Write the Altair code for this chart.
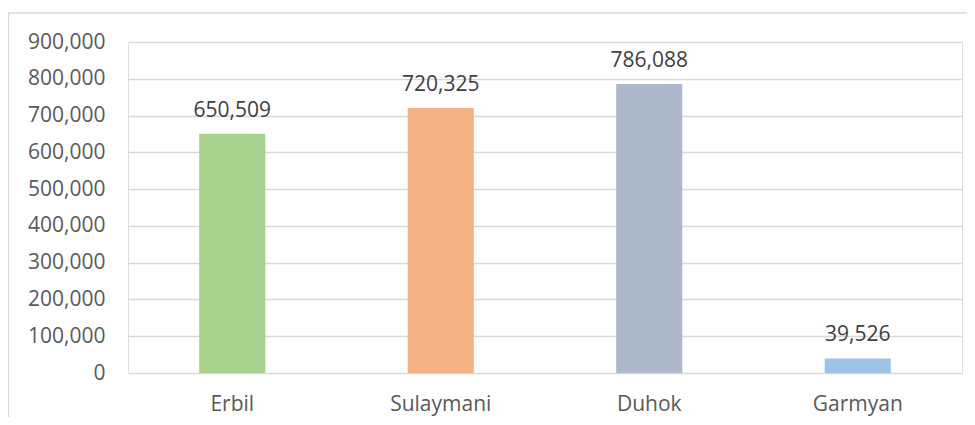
import altair as alt
import pandas as pd

regions = ["Erbil", "Sulaymani", "Duhok", "Garmyan"]
values = [650509, 720325, 786088, 39526]
colors = ["#A9D18E", "#F4B183", "#ADB9CA", "#9DC3E6"]
y_ticks = [0, 100000, 200000, 300000, 400000, 500000, 600000, 700000, 800000, 900000]

df = pd.DataFrame({"region": regions, "value": values, "color": colors})

W, H = 834, 331
FONT = "Open Sans"

x_enc = alt.X("region:N", sort=regions,
              scale=alt.Scale(paddingInner=0.683, paddingOuter=0.3415),
              axis=alt.Axis(title=None, labelAngle=0, domain=False, ticks=False,
                            grid=False,
                            labelPadding=20, labelFont=FONT, labelFontSize=21,
                            labelColor="#595959"))
y_enc = alt.Y("value:Q", scale=alt.Scale(domain=[0, 900000], nice=False, zero=True),
              axis=alt.Axis(title=None, values=y_ticks, format=",.0f", domain=False,
                            ticks=False, labelPadding=23, labelFont=FONT,
                            labelFontSize=21, labelColor="#595959", grid=True,
                            gridColor="#D9D9D9", gridWidth=1.4))

base = alt.Chart(df).encode(x=x_enc, y=y_enc)

bars = base.mark_bar().encode(color=alt.Color("color:N", scale=None))

labels = base.mark_text(
    baseline="alphabetic", dy=-17, font=FONT, fontSize=21, color="#404040"
).encode(text=alt.Text("value:Q", format=",.0f"))

frame = alt.Chart(pd.DataFrame({"k": [0]})).mark_rect(
    fill=None, stroke="#D9D9D9", strokeWidth=1.4
).encode(
    x=alt.value(-119.5), x2=alt.value(850),
    y=alt.value(-29), y2=alt.value(460),
)

chart = alt.layer(frame, bars, labels).properties(
    width=W, height=H,
    autosize=alt.AutoSizeParams(type="none"),
    padding={"left": 120, "top": 34, "right": 5, "bottom": 44},
).configure_view(strokeWidth=0, strokeOpacity=0).configure(background="white")

chart.save("out.html", embed_options={"renderer": "svg", "actions": False})
